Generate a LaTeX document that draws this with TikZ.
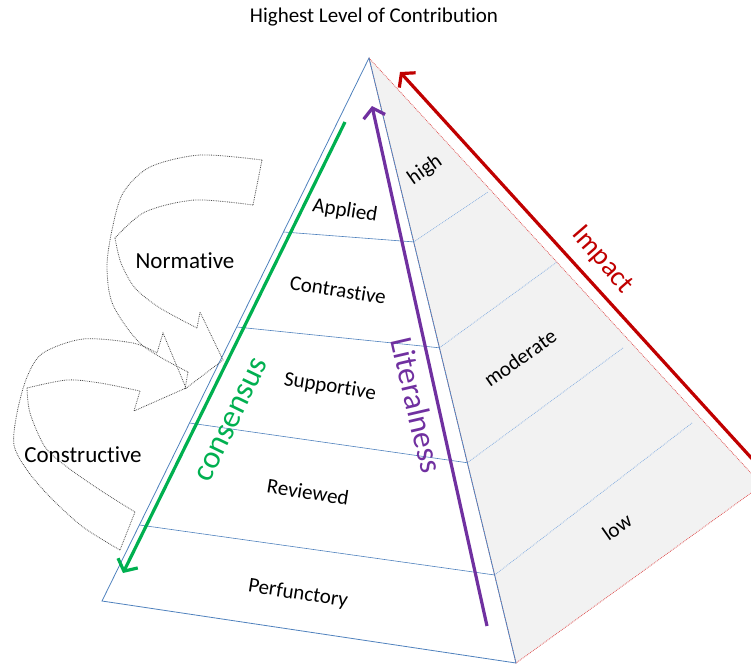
\documentclass[tikz,border=0pt]{standalone}
\usepackage{fontspec}
\setmainfont{Carlito}[Ligatures=NoCommon]
\usepackage{xcolor}
\usetikzlibrary{arrows.meta,calc}

\definecolor{edgeblue}{HTML}{4F81BD}
\definecolor{dotblue}{HTML}{8DB3E2}
\definecolor{impactred}{HTML}{C00000}
\definecolor{facered}{HTML}{E05555}
\definecolor{consgreen}{HTML}{00B050}
\definecolor{litpurple}{HTML}{7030A0}
\definecolor{facegray}{HTML}{F2F2F2}

\begin{document}
\begin{tikzpicture}[x=1pt, y=-1pt,
tier/.style={font=\fontsize{21}{24}\selectfont, rotate=-9, inner sep=0pt},
sidelbl/.style={font=\fontsize{21}{24}\selectfont, rotate=35, inner sep=0pt},
bigtxt/.style={font=\fontsize{23}{26}\selectfont, inner sep=0pt},
axislbl/.style={font=\fontsize{32}{36}\selectfont, inner sep=0pt},
axisarr/.style={line width=3.2pt, -{Straight Barb[length=9pt, width=22pt]}},
band/.style={densely dotted, draw=black!70, line width=0.8pt},
layer/.style={draw=edgeblue, line width=0.6pt},
divider/.style={draw=dotblue, densely dotted, line width=0.8pt}
]
\useasboundingbox (0,0) rectangle (751,667);
\clip (0,0) rectangle (751,667);

% Pyramid corners
\coordinate (apex) at (369,58);
\coordinate (baseL) at (102,601);
\coordinate (baseR) at (516,663);
\coordinate (baseS) at (762,485);

% Side face
\fill[facegray] (apex) -- (baseS) -- (baseR) -- cycle;
\draw[facered, densely dotted, line width=0.8pt] (apex) -- (baseS) -- (baseR) -- cycle;
\foreach \tr/\ex/\ey in {0.304/488/192, 0.479/557/262, 0.669/623/348, 0.8545/692/423}
  \draw[divider] ($(apex)!\tr!(baseR)$) -- (\ex,\ey);

% Front face
\draw[edgeblue, line width=0.8pt] (apex) -- (baseL) -- (baseR) -- cycle;
\foreach \tl/\tr in {0.3204/0.304, 0.4954/0.479, 0.6722/0.669, 0.86/0.8545}
  \draw[layer] ($(apex)!\tl!(baseL)$) -- ($(apex)!\tr!(baseR)$);

% Title
\node[font=\fontsize{21}{24}\selectfont, inner sep=0pt] (title) at (374,17) {Highest Level of Contribution};

% Layer labels
\node[tier] (applied) at (345,211) {Applied};
\node[tier] (contrastive) at (338,290) {Contrastive};
\node[tier] (supportive) at (330,387) {Supportive};
\node[tier] (reviewed) at (308,492) {Reviewed};
\node[tier] (perfunctory) at (298,594) {Perfunctory};

% Side labels
\node[sidelbl] (high) at (425,170) {high};
\node[sidelbl] (moderate) at (520,358) {moderate};
\node[sidelbl] (low) at (617,527) {low};

% Axis arrows
\coordinate (consTop) at (345,122);
\coordinate (consEnd) at (123,573);
\draw[axisarr, consgreen] (consTop) -- (consEnd);
\node[axislbl, text=consgreen, rotate=64] (consensus) at (232,420) {consensus};

\coordinate (litStart) at (487,626);
\coordinate (litEnd) at (372,106);
\draw[axisarr, litpurple] (litStart) -- (litEnd);
\node[axislbl, text=litpurple, rotate=-77] (literalness) at (417,405) {Literalness};

\coordinate (impStart) at (775,484);
\coordinate (impEnd) at (400,72);
\draw[axisarr, impactred] (impStart) -- (impEnd);
\node[font=\fontsize{28}{32}\selectfont, inner sep=0pt, text=impactred, rotate=-49] (impact) at (602,260) {Impact};

% Normative curved arrow
\draw[band] (262,160) -- (253,205);
\draw[band] plot[smooth] coordinates {(253,205) (195,200) (145,212) (115,238)};
\draw[band] plot[smooth] coordinates {(262,160) (200,155) (150,167) (123,193) (112,230) (107,267) (113,305) (142,345) (188,372)};
\draw[band] (188,372) -- (185,389) -- (223,360) -- (200,312) -- (197,328);
\draw[band] plot[smooth] coordinates {(197,328) (160,308) (135,288) (121,263) (115,238)};
\node[bigtxt] (normative) at (185,261) {Normative};

% Constructive curved arrow
\draw[band] plot[smooth] coordinates {(157,353) (133,343) (83,339) (43,353) (27,377) (17,413) (14,445) (27,470) (50,497) (83,527) (120,550)};
\draw[band] (120,550) -- (135,512);
\draw[band] plot[smooth] coordinates {(135,512) (100,490) (67,467) (45,447) (30,413) (27,388)};
\draw[band] plot[smooth] coordinates {(27,388) (67,380) (100,383) (140,391)};
\draw[band] (140,391) -- (134,411) -- (186,388) -- (163,333) -- (157,353);
\node[bigtxt] (constructive) at (83,455) {Constructive};
\end{tikzpicture}
\end{document}
